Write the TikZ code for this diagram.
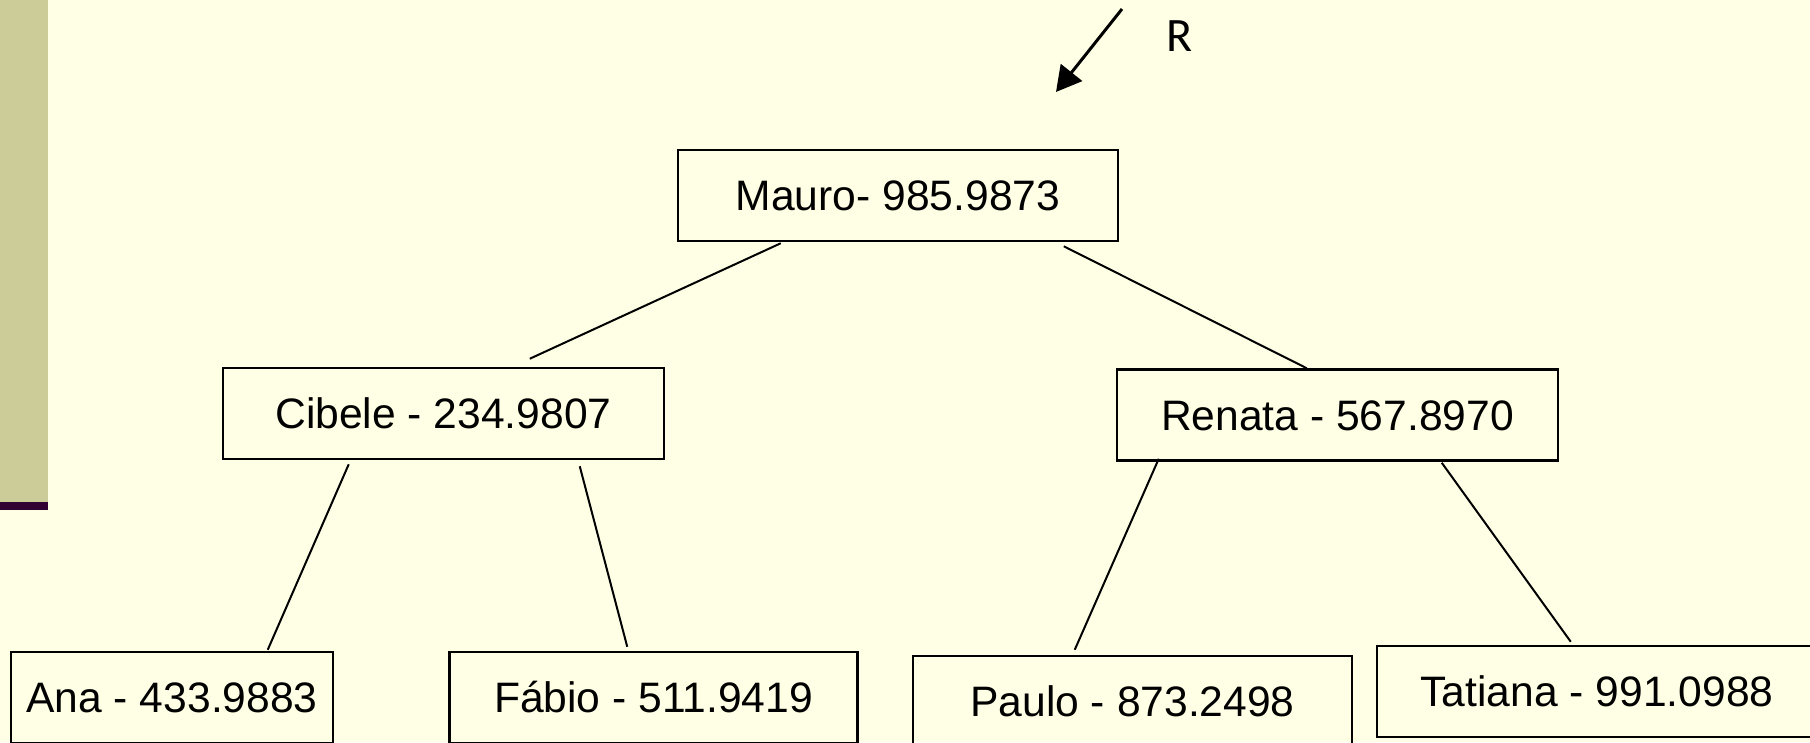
\documentclass[tikz,border=0pt]{standalone}
\usepackage{fontspec}
\setmainfont{Liberation Sans}
\newfontfamily\rfont{Carlito}
\usetikzlibrary{calc,arrows.meta}
\definecolor{bgyellow}{RGB}{255,255,230}
\definecolor{barkhaki}{RGB}{204,204,153}
\definecolor{barline}{RGB}{51,0,51}
\tikzset{
  treebox/.style={draw=black, line width=2.5pt, rectangle, inner sep=0pt,
    minimum height=91pt, text height=30.5pt, text depth=0pt,
    font=\fontsize{42.6}{42.6}\selectfont},
  link/.style={draw=black, line width=2pt},
}
\begin{document}
\begin{tikzpicture}[x=1pt,y=-1pt]
\useasboundingbox (0,0) rectangle (1810,742);
\fill[bgyellow] (0,0) rectangle (1810,742);
\fill[barkhaki] (0,0) rectangle (48,502);
\fill[barline] (0,502) rectangle (48,510);

\node[treebox, minimum width=440pt] (mauro) at (898,195.5) {Mauro- 985.9873};
\node[treebox, minimum width=441pt] (cibele) at (443.5,413.5) {Cibele - 234.9807};
\node[treebox, minimum width=441pt] (renata) at (1337.5,415) {Renata - 567.8970};
\node[treebox, minimum width=322pt] (ana) at (172,697.5) {Ana - 433.9883};
\node[treebox, minimum width=408pt] (fabio) at (653.5,697.5) {Fábio - 511.9419};
\node[treebox, minimum width=439pt] (paulo) at (1132.5,701.5) {Paulo - 873.2498};
\node[treebox, minimum width=440pt] (tatiana) at (1597,691.5) {Tatiana - 991.0988};

\draw[link] ($(mauro.south west)+(104,1)$) -- ($(cibele.north west)+(308,-8)$);
\draw[link] ($(mauro.south west)+(387,4)$) -- ($(renata.north west)+(191,0)$);
\draw[link] ($(cibele.south west)+(127,4)$) -- ($(ana.north west)+(258,-1)$);
\draw[link] ($(cibele.south west)+(358,6)$) -- ($(fabio.north west)+(179,-4)$);
\draw[link] ($(renata.south west)+(43,-3)$) -- ($(paulo.north west)+(163,-5)$);
\draw[link] ($(renata.south west)+(326,1)$) -- ($(tatiana.north west)+(195,-3)$);

\coordinate (arrstart) at (1122,9);
\coordinate (arrend) at (1056,92);
\draw[line width=3pt, -{Triangle[length=25pt,width=27pt]}] (arrstart) -- (arrend);
\node[inner sep=0pt, text height=31pt, text depth=0pt, font=\rfont\fontsize{48}{48}\selectfont] (rlabel) at (1180,35.5) {R};
\end{tikzpicture}
\end{document}
